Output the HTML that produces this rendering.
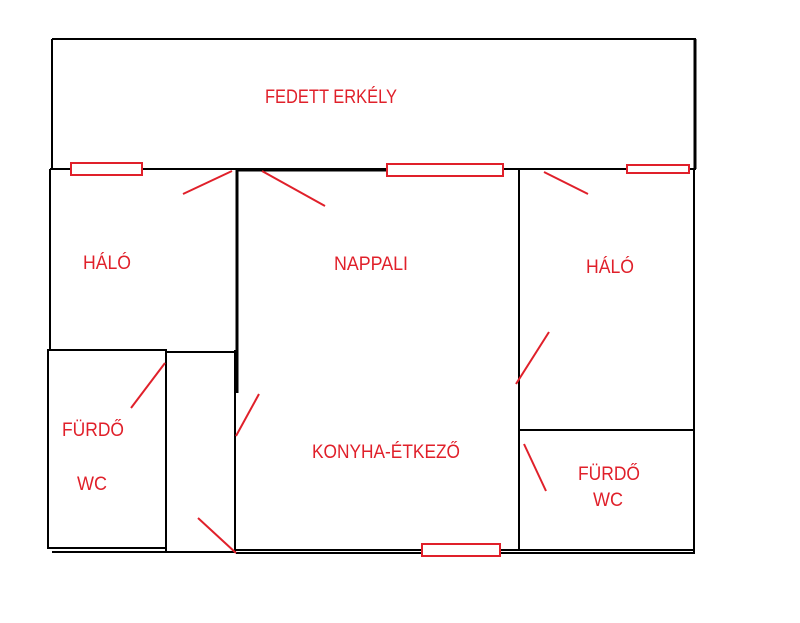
<!DOCTYPE html>
<html><head><meta charset="utf-8"><style>html,body{margin:0;padding:0;background:#fff}svg{display:block}</style></head><body>
<svg width="800" height="623" xmlns="http://www.w3.org/2000/svg">
<g stroke="#000" fill="none" stroke-width="2">
<line x1="52" y1="39" x2="696" y2="39"/>
<line x1="52" y1="39" x2="52" y2="169"/>
<line x1="695" y1="39" x2="695" y2="169" stroke-width="3"/>
<line x1="50" y1="169" x2="696" y2="169"/>
<line x1="237" y1="170" x2="387" y2="170" stroke-width="3"/>
<line x1="50" y1="169" x2="50" y2="350"/>
<line x1="237" y1="169" x2="237" y2="393" stroke-width="3"/>
<line x1="235" y1="350" x2="235" y2="552"/>
<line x1="48" y1="350" x2="166" y2="350"/>
<line x1="166" y1="352" x2="235" y2="352"/>
<rect x="48" y="350" width="118" height="198"/>
<line x1="166" y1="350" x2="166" y2="552"/>
<line x1="52" y1="552" x2="236" y2="552"/>
<line x1="236" y1="550" x2="695" y2="550"/>
<line x1="236" y1="553" x2="695" y2="553"/>
<line x1="519" y1="169" x2="519" y2="550"/>
<line x1="694" y1="169" x2="694" y2="552"/>
<line x1="519" y1="430" x2="694" y2="430"/>
</g>
<g stroke="#e0202a" fill="#fff" stroke-width="2">
<rect x="71" y="163" width="71" height="12"/>
<rect x="387" y="164" width="116" height="12"/>
<rect x="627" y="165" width="62" height="8"/>
<rect x="422" y="544" width="78" height="12"/>
<line x1="183" y1="194" x2="232" y2="171"/>
<line x1="262" y1="171" x2="325" y2="206"/>
<line x1="544" y1="172" x2="588" y2="194"/>
<line x1="549" y1="332" x2="516" y2="384"/>
<line x1="524" y1="444" x2="546" y2="491"/>
<line x1="131" y1="408" x2="165" y2="363"/>
<line x1="236" y1="436" x2="259" y2="394"/>
<line x1="198" y1="518" x2="236" y2="553"/>
</g>
<g fill="#e0202a" font-family="Liberation Sans, sans-serif" font-size="19" text-anchor="middle">
<text x="331" y="103" textLength="132" lengthAdjust="spacingAndGlyphs">FEDETT ERKÉLY</text>
<text x="107" y="269" textLength="48" lengthAdjust="spacingAndGlyphs">HÁLÓ</text>
<text x="371" y="270" textLength="74" lengthAdjust="spacingAndGlyphs">NAPPALI</text>
<text x="610" y="273" textLength="48" lengthAdjust="spacingAndGlyphs">HÁLÓ</text>
<text x="93" y="436" textLength="62" lengthAdjust="spacingAndGlyphs">FÜRDŐ</text>
<text x="92" y="490" textLength="30" lengthAdjust="spacingAndGlyphs">WC</text>
<text x="386" y="458" textLength="148" lengthAdjust="spacingAndGlyphs">KONYHA-ÉTKEZŐ</text>
<text x="609" y="480" textLength="62" lengthAdjust="spacingAndGlyphs">FÜRDŐ</text>
<text x="608" y="506" textLength="30" lengthAdjust="spacingAndGlyphs">WC</text>
</g>
</svg>
</body></html>
